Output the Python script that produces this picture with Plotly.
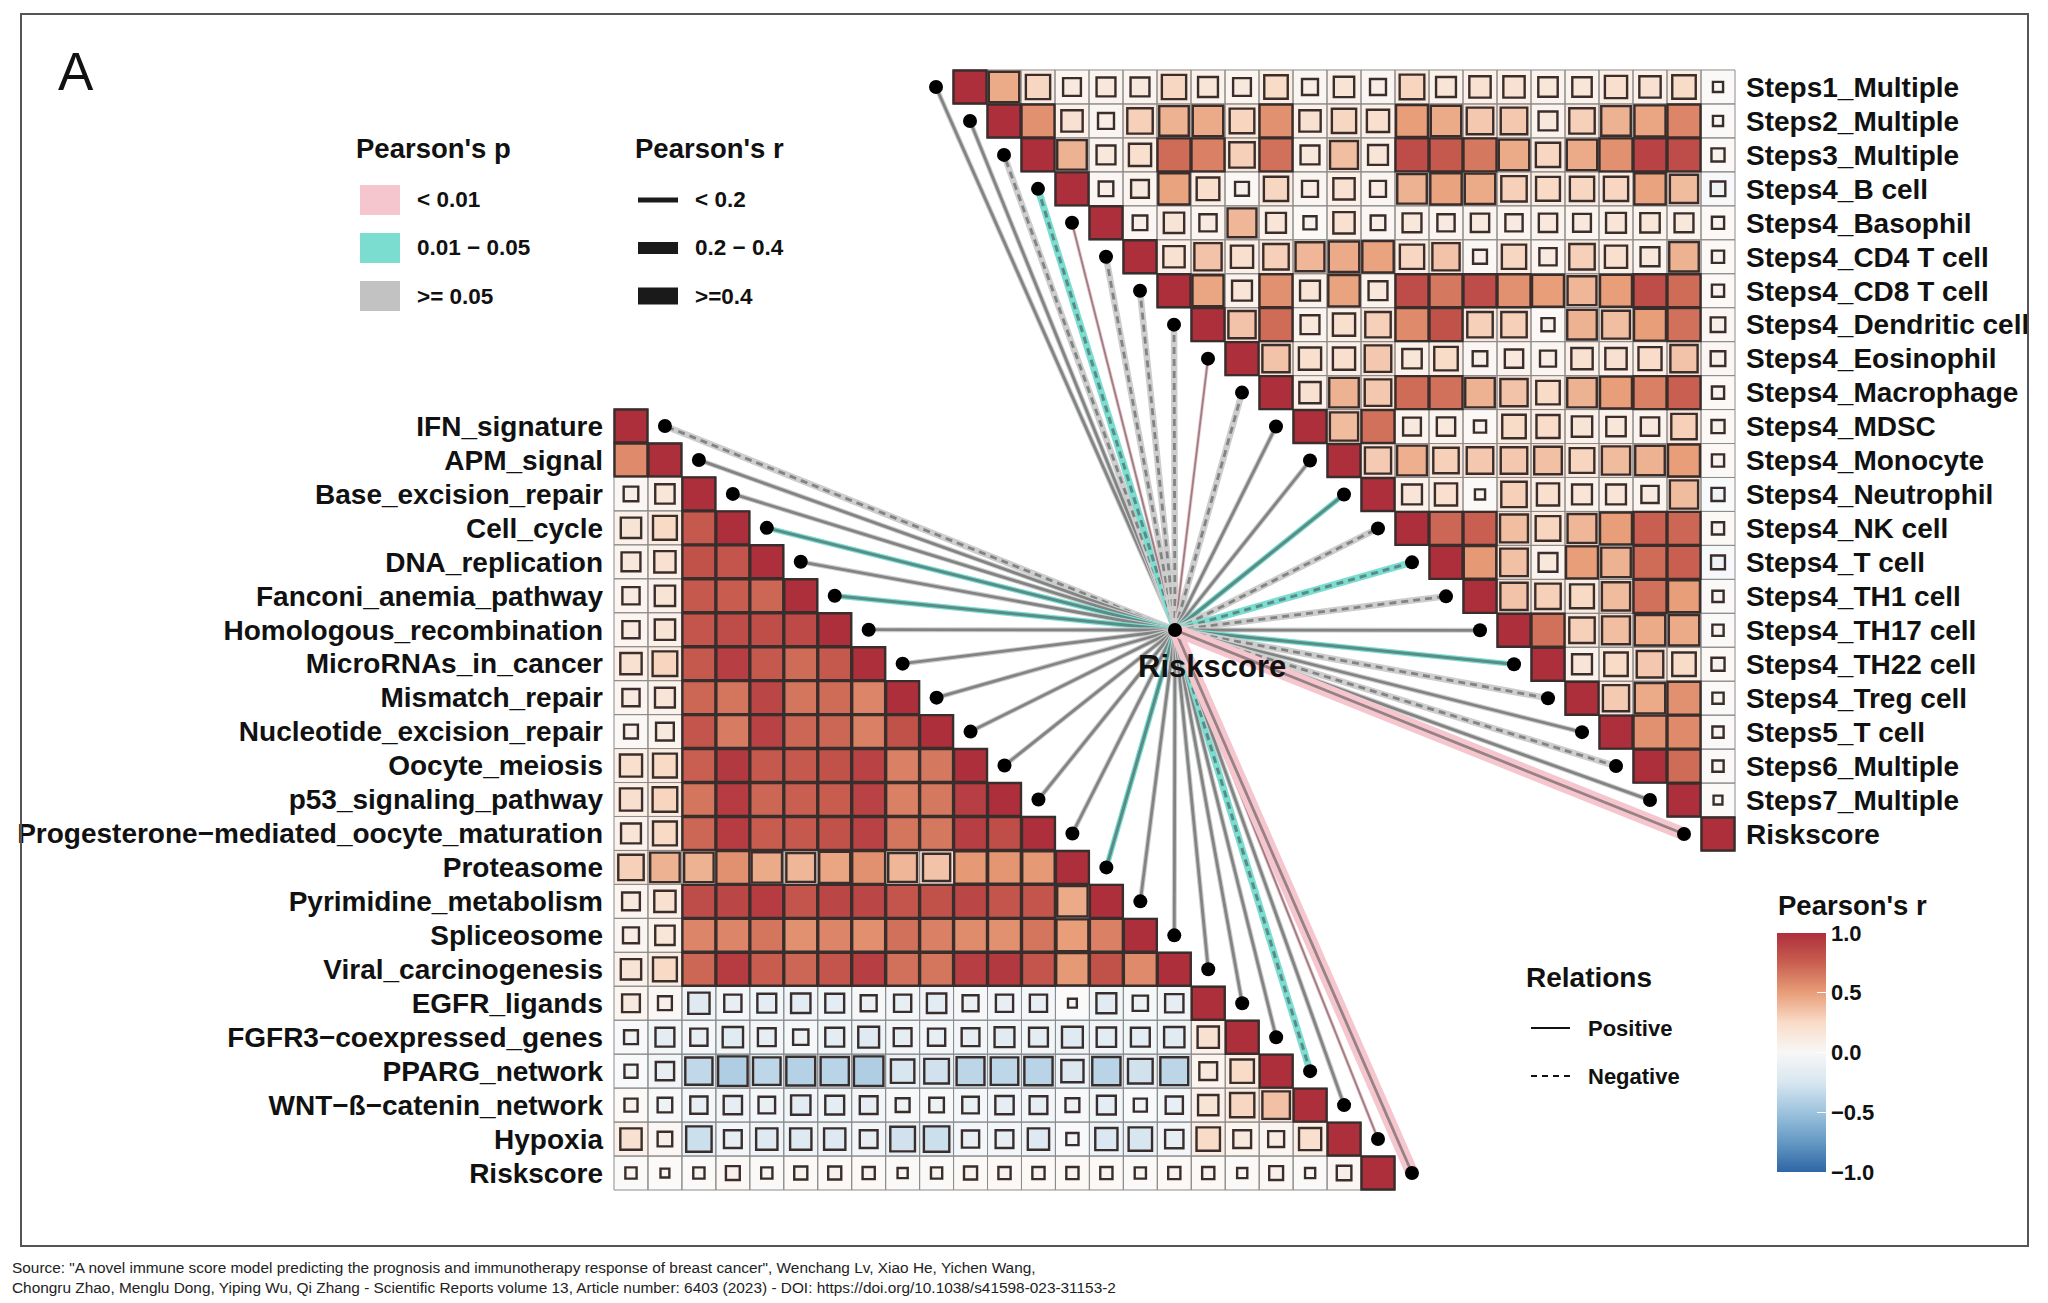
import math
import plotly.graph_objects as go

lower_names = ["IFN_signature", "APM_signal", "Base_excision_repair", "Cell_cycle", "DNA_replication",
               "Fanconi_anemia_pathway", "Homologous_recombination", "MicroRNAs_in_cancer", "Mismatch_repair",
               "Nucleotide_excision_repair", "Oocyte_meiosis", "p53_signaling_pathway",
               "Progesterone−mediated_oocyte_maturation", "Proteasome", "Pyrimidine_metabolism", "Spliceosome",
               "Viral_carcinogenesis", "EGFR_ligands", "FGFR3−coexpressed_genes", "PPARG_network",
               "WNT−ß−catenin_network", "Hypoxia", "Riskscore"]
upper_names = ["Steps1_Multiple", "Steps2_Multiple", "Steps3_Multiple", "Steps4_B cell", "Steps4_Basophil",
               "Steps4_CD4 T cell", "Steps4_CD8 T cell", "Steps4_Dendritic cell", "Steps4_Eosinophil",
               "Steps4_Macrophage", "Steps4_MDSC", "Steps4_Monocyte", "Steps4_Neutrophil", "Steps4_NK cell",
               "Steps4_T cell", "Steps4_TH1 cell", "Steps4_TH17 cell", "Steps4_TH22 cell", "Steps4_Treg cell",
               "Steps5_T cell", "Steps6_Multiple", "Steps7_Multiple", "Riskscore"]

# Lower triangle: row i holds columns 0..i-1 (diagonal is 1)
lower_r = [
    [],
    [.58],
    [.08, .16],
    [.18, .26, .78],
    [.15, .2, .82, .8],
    [.12, .18, .78, .76, .72],
    [.12, .18, .8, .85, .84, .86],
    [.2, .28, .78, .92, .78, .7, .78],
    [.12, .17, .72, .66, .88, .66, .7, .6],
    [.07, .13, .8, .64, .9, .72, .72, .62, .82],
    [.22, .26, .75, .95, .78, .78, .82, .9, .62, .65],
    [.22, .28, .66, .93, .72, .75, .76, .9, .62, .65, .92],
    [.17, .26, .72, .93, .76, .78, .82, .9, .66, .65, .92, .84],
    [.3, .42, .42, .55, .45, .4, .47, .55, .4, .35, .52, .53, .52],
    [.13, .2, .85, .88, .93, .8, .88, .88, .8, .82, .88, .8, .8, .45],
    [.1, .16, .6, .6, .66, .55, .6, .56, .68, .62, .57, .55, .66, .5, .62],
    [.18, .26, .72, .93, .76, .72, .8, .92, .68, .66, .92, .95, .8, .52, .82, .58],
    [.13, .07, -.2, -.12, -.15, -.16, -.15, -.1, -.12, -.16, -.1, -.12, -.12, -.02, -.17, -.09, -.14],
    [-.07, -.15, -.12, -.18, -.13, -.09, -.15, -.19, -.13, -.12, -.13, -.17, -.15, -.19, -.16, -.15, -.18, .2],
    [-.06, -.14, -.35, -.42, -.36, -.4, -.38, -.42, -.25, -.28, -.37, -.36, -.38, -.22, -.38, -.28, -.37, .13, .25],
    [.06, -.08, -.12, -.14, -.11, -.16, -.15, -.13, -.07, -.08, -.11, -.14, -.13, -.07, -.15, -.06, -.12, .18, .27, .36],
    [.2, .08, -.3, -.13, -.2, -.2, -.2, -.13, -.28, -.3, -.12, -.13, -.2, -.05, -.22, -.25, -.14, .25, .13, .1, .22],
    [.04, .02, .04, .07, .04, .06, .06, .05, .03, .04, .06, .05, .05, .05, .05, .04, .05, .05, .03, .07, .03, .08],
]

# Upper triangle: row i holds columns i+1..22 (diagonal is 1)
upper_r = [
    [.45, .27, .13, .15, .15, .27, .17, .13, .25, .1, .18, .1, .28, .17, .2, .2, .16, .16, .22, .2, .25, .03],
    [.55, .2, .1, .3, .42, .45, .28, .55, .2, .27, .22, .5, .45, .33, .33, .15, .3, .42, .47, .6, .03],
    [.42, .15, .22, .7, .62, .3, .68, .15, .37, .17, .85, .78, .65, .45, .27, .45, .55, .9, .85, .06],
    [.08, .13, .48, .23, .07, .27, .1, .2, .1, .42, .48, .45, .3, .26, .27, .27, .48, .38, -.08],
    [.08, .18, .12, .4, .17, .06, .2, .08, .15, .12, .14, .12, .14, .13, .17, .16, .15, .05],
    [.2, .35, .22, .3, .4, .45, .48, .27, .35, .07, .27, .12, .3, .22, .15, .42, .05],
    [.47, .17, .55, .17, .48, .15, .85, .65, .85, .55, .5, .4, .5, .85, .7, .05],
    [.35, .7, .15, .22, .3, .58, .82, .3, .3, .06, .42, .37, .5, .68, .08],
    [.35, .22, .22, .33, .16, .25, .08, .14, .1, .2, .2, .24, .35, .08],
    [.2, .42, .33, .7, .68, .42, .35, .25, .42, .5, .62, .75, .05],
    [.38, .68, .13, .14, .05, .25, .24, .18, .16, .14, .3, .06],
    [.32, .43, .3, .33, .33, .36, .28, .38, .42, .5, .05],
    [.17, .22, .03, .3, .22, .17, .17, .12, .38, -.06],
    [.72, .75, .37, .28, .4, .5, .75, .72, .05],
    [.52, .36, .15, .5, .42, .7, .75, -.07],
    [.35, .3, .26, .38, .68, .5, .04],
    [.68, .3, .37, .45, .45, .04],
    [.17, .25, .33, .25, .06],
    [.32, .45, .55, .04],
    [.55, .58, .04],
    [.7, .04],
    [.02],
    [],
]

# Link attributes to Riskscore, one per row: p class, dashed (negative) or not
lower_link_p = ["grey", "grey", "grey", "teal", "grey", "teal", "grey", "grey", "grey", "grey", "grey", "grey",
                "grey", "teal", "grey", "grey", "grey", "grey", "grey", "teal", "grey", "pink_thin", "pink"]
lower_link_dash = [1, 0, 0, 0, 0, 0, 0, 0, 0, 0, 0, 0, 0, 0, 0, 0, 0, 0, 0, 1, 0, 0, 0]
upper_link_p = ["grey", "grey", "grey", "teal", "pink_thin", "grey", "grey", "grey", "pink_thin", "grey", "grey",
                "grey", "teal", "grey", "teal", "grey", "grey", "teal", "grey", "grey", "grey", "grey", "pink"]
upper_link_dash = [0, 0, 1, 1, 0, 1, 1, 1, 0, 1, 0, 0, 0, 1, 1, 1, 0, 0, 1, 0, 1, 0, 0]

legend_p_labels = ["< 0.01", "0.01 − 0.05", ">= 0.05"]
legend_r_labels = ["< 0.2", "0.2 − 0.4", ">=0.4"]
relation_labels = ["Positive", "Negative"]
colorbar_ticks = [-1, -0.5, 0, 0.5, 1]

W, H = 2048, 1303
FONT = "Liberation Sans"
L_BOX = (614, 409, 1395, 1190)
U_BOX = (953, 70, 1735, 851)
HUB = (1175, 630)
N = 23

SCALE = [[0, "#2F66A5"], [.125, "#6499C4"], [.25, "#9DC3DD"], [.375, "#D8E6F0"], [.5, "#F7F7F7"],
         [.625, "#F9DCC8"], [.75, "#E89E78"], [.875, "#C95F50"], [1, "#AE2F3C"]]
P_UNDER = {"grey": "#CDCDCD", "teal": "#7BDDD0", "pink": "#F5C6CE", "pink_thin": "#F5C6CE"}
P_WIDTH = {"grey": 5, "teal": 5.5, "pink": 13, "pink_thin": 3.5}
CORE_W = {"grey": 2.8, "teal": 3, "pink": 2.8, "pink_thin": 1.8}


def dom(box):
    x0, y0, x1, y1 = box
    return [x0 / W, x1 / W], [1 - y1 / H, 1 - y0 / H]


def side(r, cell):
    return min(1.0, 0.12 + 1.2 * math.sqrt(abs(r))) * cell


def build_cells(rows, upper):
    xs, ys, rs = [], [], []
    for i, row in enumerate(rows):
        cols = range(i + 1, N) if upper else range(0, i)
        for j, v in zip(cols, row):
            xs.append(j); ys.append(i); rs.append(v)
        xs.append(i); ys.append(i); rs.append(1.0)
    return xs, ys, rs


fig = go.Figure()


def add_matrix(rows, upper, box, xa, ya, colorbar=None):
    cell = (box[2] - box[0]) / N
    xs, ys, rs = build_cells(rows, upper)
    z = [[None] * N for _ in range(N)]
    for x, y, r in zip(xs, ys, rs):
        z[y][x] = r
    fig.add_trace(go.Heatmap(z=z, x=list(range(N)), y=list(range(N)), zmin=-1, zmax=1, colorscale=SCALE,
                             opacity=0.5, showscale=False, xaxis=xa, yaxis=ya, hoverongaps=False))
    fig.add_trace(go.Scatter(x=xs, y=ys, mode="markers", xaxis=xa, yaxis=ya, cliponaxis=False, showlegend=False,
                             marker=dict(symbol="square-open", size=cell, color="#8c8c8c", line=dict(width=1))))
    marker = dict(symbol="square", size=[side(r, cell) - 1 for r in rs], color=rs, cmin=-1, cmax=1, opacity=1,
                  colorscale=SCALE, line=dict(color="#3a2e2c", width=2.4), showscale=colorbar is not None)
    if colorbar is not None:
        marker["colorbar"] = colorbar
    fig.add_trace(go.Scatter(x=xs, y=ys, mode="markers", xaxis=xa, yaxis=ya, cliponaxis=False, showlegend=False,
                             text=rs, marker=marker))


cb = dict(x=1777 / W, xanchor="left", xpad=0, y=1 - 933 / H, yanchor="top", ypad=0,
          lenmode="pixels", len=239, thicknessmode="pixels", thickness=49, outlinewidth=0,
          tickmode="array", tickvals=colorbar_ticks, tickformat=".1f", ticks="inside", ticklen=9,
          tickcolor="white", tickwidth=1, tickprefix="\u00a0",
          tickfont=dict(family=FONT, size=22, color="#111", weight=700),
          ticklabelposition="outside")

add_matrix(lower_r, False, L_BOX, "x", "y")
add_matrix(upper_r, True, U_BOX, "x2", "y2", colorbar=cb)


# Links on a full-figure axis
def node_xy(i, box, upper):
    cell_w = (box[2] - box[0]) / N
    cell_h = (box[3] - box[1]) / N
    col = i - 0.5 if upper else i + 1.5
    return box[0] + cell_w * col, box[1] + cell_h * (i + 0.5)


nodes_x, nodes_y = [HUB[0]], [HUB[1]]
for box, upper, ps, dashes in [(L_BOX, False, lower_link_p, lower_link_dash), (U_BOX, True, upper_link_p, upper_link_dash)]:
    for i, (p, d) in enumerate(zip(ps, dashes)):
        nx, ny = node_xy(i, box, upper)
        nodes_x.append(nx); nodes_y.append(ny)
        under_w = P_WIDTH[p] + (1.5 if d else 0)
        fig.add_trace(go.Scatter(x=[HUB[0], nx], y=[HUB[1], ny], mode="lines", xaxis="x3", yaxis="y3", showlegend=False,
                                 line=dict(color=P_UNDER[p], width=under_w)))
        fig.add_trace(go.Scatter(x=[HUB[0], nx], y=[HUB[1], ny], mode="lines", xaxis="x3", yaxis="y3", showlegend=False,
                                 line=dict(color="rgba(55,60,60,0.5)", width=CORE_W[p], dash="7px,5px" if d else "solid")))
fig.add_trace(go.Scatter(x=nodes_x, y=nodes_y, mode="markers", xaxis="x3", yaxis="y3", showlegend=False,
                         marker=dict(color="black", size=14)))

lx, ly = dom(L_BOX)
ux, uy = dom(U_BOX)
ticks_font = dict(family=FONT, size=28, color="#111", weight=700)
fig.update_layout(
    width=W, height=H, margin=dict(l=0, r=0, t=0, b=0), autosize=False,
    paper_bgcolor="white", plot_bgcolor="rgba(0,0,0,0)", showlegend=False,
    xaxis=dict(domain=lx, range=[-.5, 22.5], visible=False, anchor="y"),
    yaxis=dict(domain=ly, range=[22.5, -.5], anchor="x", tickmode="array", tickvals=list(range(N)), ticktext=lower_names,
               tickfont=ticks_font, showgrid=False, zeroline=False, showline=False, ticks="", ticklabelstandoff=10),
    xaxis2=dict(domain=ux, range=[-.5, 22.5], visible=False, anchor="y2"),
    yaxis2=dict(domain=uy, range=[22.5, -.5], anchor="x2", side="right", tickmode="array", tickvals=list(range(N)),
                ticktext=upper_names, tickfont=ticks_font, showgrid=False, zeroline=False, showline=False, ticks="",
                ticklabelstandoff=10),
    xaxis3=dict(domain=[0, 1], range=[0, W], visible=False, anchor="y3"),
    yaxis3=dict(domain=[0, 1], range=[H, 0], visible=False, anchor="x3"),
)


def px(x, y):
    return x / W, 1 - y / H


def text(x, y, s, size, weight=700, anchor="left", color="#111"):
    fx, fy = px(x, y)
    fig.add_annotation(x=fx, y=fy, xref="paper", yref="paper", text=s, showarrow=False, xanchor=anchor, yanchor="middle",
                       font=dict(family=FONT, size=size, color=color, weight=weight))


def rect(x0, y0, x1, y1, fill=None, line=None, width=0):
    a, b = px(x0, y0)
    c, d = px(x1, y1)
    fig.add_shape(type="rect", xref="paper", yref="paper", x0=a, y0=b, x1=c, y1=d, fillcolor=fill,
                  line=dict(color=line, width=width) if line else dict(width=0))


def segment(x0, y0, x1, y1, color, width, dash="solid"):
    a, b = px(x0, y0)
    c, d = px(x1, y1)
    fig.add_shape(type="line", xref="paper", yref="paper", x0=a, y0=b, x1=c, y1=d, line=dict(color=color, width=width, dash=dash))


rect(21, 14, 2028, 1246, line="#555555", width=2)
text(56, 72, "A", 53, weight=400)
text(1212, 666, "Riskscore", 31, anchor="center")

text(354, 149, "Pearson's p", 27.5)
text(633, 149, "Pearson's r", 27.5)
p_cols = ["#F5C6CE", "#7BDDD0", "#C2C2C2"]
row_y = [200, 248, 296]
r_heights = [5, 12, 17]
for y, c, lab, h, rlab in zip(row_y, p_cols, legend_p_labels, r_heights, legend_r_labels):
    rect(360, y - 15, 400, y + 15, fill=c)
    text(415, y, lab, 22.5)
    rect(638, y - h / 2, 678, y + h / 2, fill="#1a1a1a")
    text(693, y, rlab, 22.5)

text(1524, 977, "Relations", 28)
segment(1531, 1028, 1570, 1028, "#111", 2.2)
segment(1531, 1076, 1570, 1076, "#111", 2.2, "6px,5px")
text(1586, 1028, relation_labels[0], 22)
text(1586, 1076, relation_labels[1], 22)
text(1776, 905, "Pearson's r", 27.5)

text(10, 1267, 'Source: "A novel immune score model predicting the prognosis and immunotherapy response of breast cancer", Wenchang Lv, Xiao He, Yichen Wang,', 15.4, weight=400, color="#222")
text(10, 1287, "Chongru Zhao, Menglu Dong, Yiping Wu, Qi Zhang - Scientific Reports volume 13, Article number: 6403 (2023) - DOI: https://doi.org/10.1038/s41598-023-31153-2", 15.4, weight=400, color="#222")

fig.write_html("out.html", post_script="document.body.style.margin='0';", config={"displayModeBar": False})
